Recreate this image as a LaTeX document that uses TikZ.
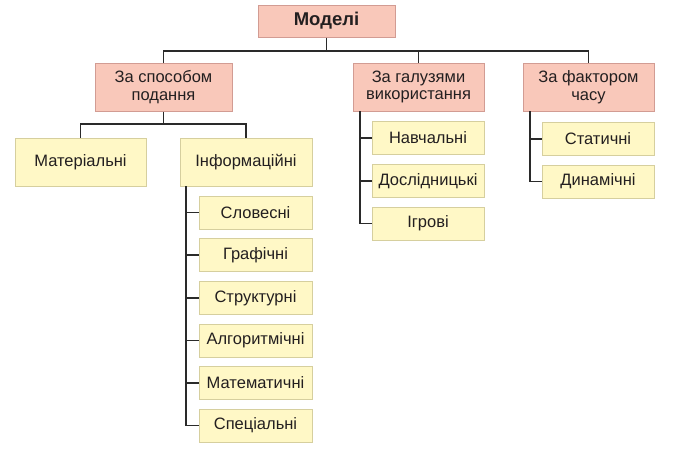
\documentclass[tikz,border=0pt]{standalone}
\usepackage{fontspec}
\setmainfont{Liberation Sans}
\begin{document}
\begin{tikzpicture}[x=1pt,y=-1pt,
  pinkbox/.style={draw=pinkedge,fill=pinkfill,line width=1pt,inner sep=0pt,align=center,font=\fontsize{16.5}{17.5}\selectfont,text=txt},
  yelbox/.style={draw=yeledge,fill=yelfill,line width=1pt,inner sep=0pt,align=center,font=\fontsize{16.5}{17.5}\selectfont,text=txt},
  conn/.style={draw=linec,line width=1.6pt}]
\definecolor{pinkfill}{HTML}{F9C8BA}
\definecolor{pinkedge}{HTML}{D29C93}
\definecolor{yelfill}{HTML}{FFF8C6}
\definecolor{yeledge}{HTML}{D6CF9E}
\definecolor{txt}{HTML}{231F20}
\definecolor{linec}{HTML}{2A2A2A}
\useasboundingbox (0,0) rectangle (687,455);
\node[pinkbox,minimum width=137pt,minimum height=32pt,font=\bfseries\fontsize{18.5}{20}\selectfont] (root) at (326.5,21) {Моделі};
\node[pinkbox,minimum width=137pt,minimum height=48pt] (spos) at (163.5,87) {За способом\\подання};
\node[pinkbox,minimum width=131pt,minimum height=48pt] (galuz) at (418.5,87) {За галузями\\використання};
\node[pinkbox,minimum width=131pt,minimum height=48pt] (fact) at (588.5,87) {За фактором\\часу};
\node[yelbox,minimum width=131pt,minimum height=48pt] (mat) at (80.5,162) {Матеріальні};
\node[yelbox,minimum width=132pt,minimum height=48pt] (inf) at (246,162) {Інформаційні};
\foreach \n/\t/\y in {s1/Словесні/212.5, s2/Графічні/255, s3/Структурні/298, s4/Алгоритмічні/340.5, s5/Математичні/383, s6/Спеціальні/425.5}
  \node[yelbox,minimum width=113pt,minimum height=33pt] (\n) at (255.5,\y) {\t};
\foreach \n/\t/\y in {g1/Навчальні/138, g2/Дослідницькі/181, g3/Ігрові/223.5}
  \node[yelbox,minimum width=112pt,minimum height=33pt] (\n) at (428,\y) {\t};
\foreach \n/\t/\y in {f1/Статичні/139, f2/Динамічні/181.5}
  \node[yelbox,minimum width=112pt,minimum height=33pt] (\n) at (598,\y) {\t};
% connectors
\coordinate (bus1) at (326.5,51);
\draw[conn] (root.south) -- (bus1);
\draw[conn] (spos.north) |- (bus1) -| (fact.north);
\draw[conn] (galuz.north) -- (galuz.north |- bus1);
\coordinate (bus2) at (163.5,124);
\draw[conn] (spos.south) -- (bus2);
\draw[conn] (mat.north) |- (bus2) -| (inf.north);
% informational branch
\coordinate (ib) at (186,186);
\draw[conn] (ib) |- (s6.west);
\foreach \n in {s1,s2,s3,s4,s5} \draw[conn] (ib |- \n.west) -- (\n.west);
% galuz branch
\coordinate (gb) at (360,111);
\draw[conn] (gb) |- (g3.west);
\foreach \n in {g1,g2} \draw[conn] (gb |- \n.west) -- (\n.west);
% fact branch
\coordinate (fb) at (530,111);
\draw[conn] (fb) |- (f2.west);
\draw[conn] (fb |- f1.west) -- (f1.west);
\end{tikzpicture}
\end{document}
